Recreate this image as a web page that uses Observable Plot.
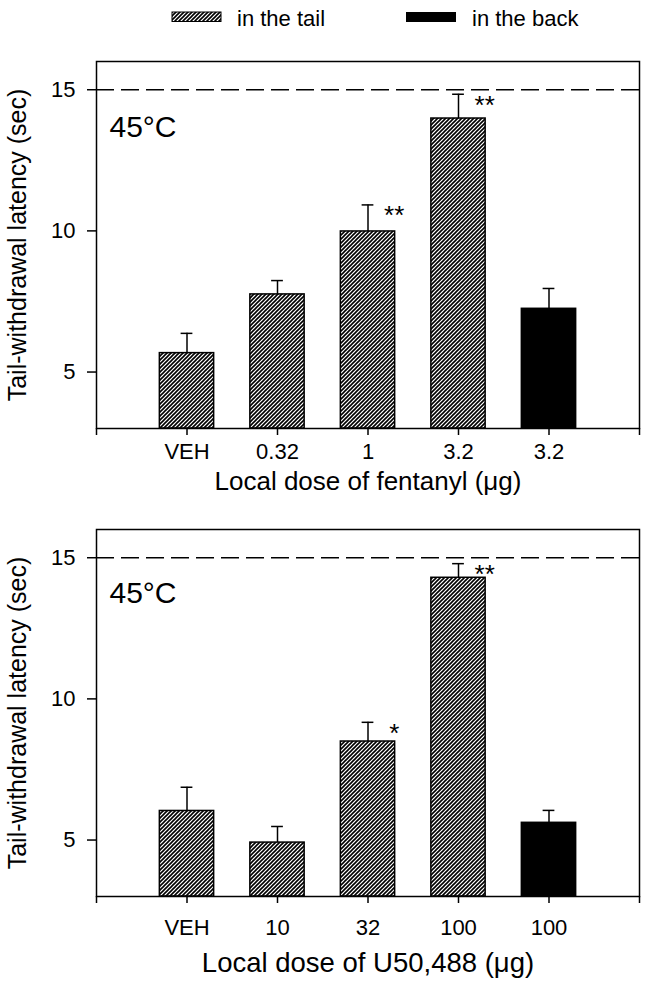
<!DOCTYPE html>
<html>
<head>
<meta charset="utf-8">
<script src="https://cdn.jsdelivr.net/npm/d3@7"></script>
<script src="https://cdn.jsdelivr.net/npm/@observablehq/plot@0.6"></script>
<style>
  html, body { margin: 0; padding: 0; background: #fff; }
  #wrap { position: relative; width: 648px; height: 994px; font-family: "Liberation Sans", Arial, sans-serif; }
  #legend { position: absolute; top: 0; left: 0; }
  #p1 { position: absolute; top: 40px; left: 0; }
  #p2 { position: absolute; top: 510px; left: 0; }
</style>
</head>
<body>
<div id="wrap">
  <svg id="legend" width="648" height="40"></svg>
  <div id="p1"></div>
  <div id="p2"></div>
</div>
<script>
// ---- data ----
const legendLabels = ["in the tail", "in the back"];
const yTitle = "Tail-withdrawal latency (sec)";
const tempLabel = "45°C";
const cutoff = 15;
const yTicks = [5, 10, 15];
const yDomain = [3, 16];

const fentanylTitle = "Local dose of fentanyl (μg)";
const fentanylLabels = ["VEH", "0.32", "1", "3.2", "3.2"];
const fentanylSite = ["tail", "tail", "tail", "tail", "back"];
const fentanylMean = [5.67, 7.75, 9.98, 13.98, 7.24];
const fentanylSem = [0.70, 0.49, 0.94, 0.86, 0.72];
const fentanylStars = ["", "", "**", "**", ""];

const u50Title = "Local dose of U50,488 (μg)";
const u50Labels = ["VEH", "10", "32", "100", "100"];
const u50Site = ["tail", "tail", "tail", "tail", "back"];
const u50Mean = [6.03, 4.91, 8.49, 14.29, 5.61];
const u50Sem = [0.84, 0.57, 0.68, 0.50, 0.44];
const u50Stars = ["", "", "*", "**", ""];

const FONT = '"Liberation Sans", Arial, sans-serif';
const NS = "http://www.w3.org/2000/svg";

function hatchPattern(id) {
  return `<pattern id="${id}" patternUnits="userSpaceOnUse" width="4" height="4">` +
    `<rect width="4" height="4" fill="white"/>` +
    `<path d="M-1,1 l2,-2 M0,4 l4,-4 M3,5 l2,-2" stroke="black" stroke-width="1.6"/></pattern>`;
}

function defsMark(id) {
  return () => {
    const defs = document.createElementNS(NS, "defs");
    defs.innerHTML = hatchPattern(id);
    return defs;
  };
}

function panel(cfg) {
  const data = cfg.labels.map((label, i) => ({
    pos: i + 1, label, mean: cfg.mean[i], sem: cfg.sem[i], site: cfg.site[i], star: cfg.stars[i]
  }));
  const hw = 0.3, cap = 0.065;
  return Plot.plot({
    width: 648,
    height: cfg.height,
    marginLeft: 96,
    marginRight: 9,
    marginTop: cfg.marginTop,
    marginBottom: cfg.marginBottom,
    style: { fontFamily: FONT, fontSize: "22px", color: "black", background: "white", overflow: "visible" },
    x: { domain: [0, cfg.labels.length + 1], axis: null },
    y: { domain: yDomain, axis: null },
    marks: [
      defsMark(cfg.id),
      Plot.axisX({
        ticks: d3.range(0, cfg.labels.length + 2),
        tickFormat: v => cfg.labels[v - 1] ?? "",
        tickSize: 7, tickPadding: cfg.xTickPadding, strokeWidth: 1.5, fontSize: 22, label: null
      }),
      Plot.axisY({
        ticks: yTicks, tickSize: 9, tickPadding: 12, strokeWidth: 1.5, fontSize: 22, label: null
      }),
      Plot.ruleY([cutoff], { strokeDasharray: "18,7", strokeWidth: 1.5 }),
      Plot.ruleX(data, { x: "pos", y1: "mean", y2: d => d.mean + d.sem, strokeWidth: 1.5 }),
      Plot.ruleY(data, { y: d => d.mean + d.sem, x1: d => d.pos - cap, x2: d => d.pos + cap, strokeWidth: 1.5 }),
      Plot.rectY(data, {
        filter: d => d.site === "tail",
        x1: d => d.pos - hw, x2: d => d.pos + hw, y1: yDomain[0], y2: "mean",
        fill: `url(#${cfg.id})`, stroke: "black", strokeWidth: 1.5
      }),
      Plot.rectY(data, {
        filter: d => d.site === "back",
        x1: d => d.pos - hw, x2: d => d.pos + hw, y1: yDomain[0], y2: "mean",
        fill: "black", stroke: "black", strokeWidth: 1.5
      }),
      Plot.text(data, {
        filter: d => d.star,
        x: d => d.pos + 0.29, y: d => d.mean + d.sem, text: "star", dy: 11, fontSize: 26
      }),
      Plot.text([tempLabel], {
        text: d => d, frameAnchor: "top-left", textAnchor: "start", lineAnchor: "top",
        dx: 13, dy: cfg.tempDy, fontSize: 30
      }),
      Plot.text([cfg.title], {
        text: d => d, frameAnchor: "bottom", textAnchor: "middle", lineAnchor: "middle",
        dy: cfg.xTitleDy, fontSize: cfg.xTitleSize
      }),
      Plot.text([yTitle], {
        text: d => d, frameAnchor: "left", textAnchor: "middle", lineAnchor: "middle",
        rotate: -90, dx: -79, fontSize: 25
      }),
      Plot.frame({ stroke: "black", strokeWidth: 1.5 })
    ]
  });
}

document.getElementById("p1").appendChild(panel({
  id: "hatch1", labels: fentanylLabels, mean: fentanylMean, sem: fentanylSem,
  site: fentanylSite, stars: fentanylStars, title: fentanylTitle,
  height: 470, marginTop: 21, marginBottom: 82, xTickPadding: 8, xTitleDy: 53, xTitleSize: 26, tempDy: 54
}));

document.getElementById("p2").appendChild(panel({
  id: "hatch2", labels: u50Labels, mean: u50Mean, sem: u50Sem,
  site: u50Site, stars: u50Stars, title: u50Title,
  height: 484, marginTop: 19, marginBottom: 98, xTickPadding: 16, xTitleDy: 67, xTitleSize: 27.5, tempDy: 52
}));

// ---- legend ----
const legend = document.getElementById("legend");
legend.innerHTML =
  `<defs>${hatchPattern("hatchL")}</defs>` +
  `<rect x="172" y="12" width="49" height="9.5" fill="url(#hatchL)" stroke="black" stroke-width="1"/>` +
  `<text x="237" y="26" font-size="22" font-family='${FONT}'>${legendLabels[0]}</text>` +
  `<rect x="406" y="12" width="50" height="10" fill="black"/>` +
  `<text x="472" y="26" font-size="22" font-family='${FONT}'>${legendLabels[1]}</text>`;
</script>
</body>
</html>
